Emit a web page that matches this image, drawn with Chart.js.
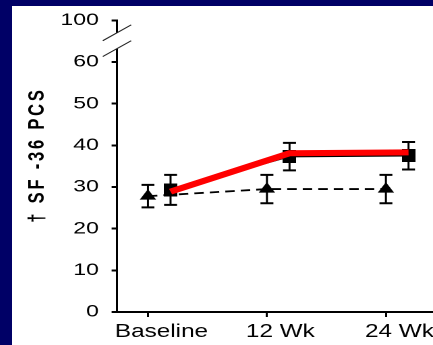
<!DOCTYPE html>
<html>
<head>
<meta charset="utf-8">
<script src="https://cdn.jsdelivr.net/npm/chart.js@4"></script>
<style>
  html, body { margin: 0; padding: 0; width: 433px; height: 345px; overflow: hidden; background: #000066; }
  #panel { position: absolute; left: 12px; top: 6px; width: 421px; height: 339px; background: #fff; overflow: hidden; }
  /* the old slide graphic is stretched sideways, so the canvas is too */
  #myChart { transform: scaleX(1.3494); transform-origin: 0 0; }
</style>
</head>
<body>
<div id="panel"><canvas id="myChart" width="312" height="339"></canvas></div>
<script>
const categories = ['Baseline', '12 Wk', '24 Wk'];
const yTickValues = [0, 10, 20, 30, 40, 50, 60, 70];
const yTickLabels = ['0', '10', '20', '30', '40', '50', '60', '100'];

const controlPCS = [27.8, 29.5, 29.5];
const controlErr = [2.7, 3.4, 3.4];
const treatedPCS = [29.3, 37.3, 37.5];
const treatedErr = [3.6, 3.3, 3.3];
const highlightPCS = [28.9, 38.1, 38.3];

const yAxisTitle = '\u2020 SF -36 PCS';

// treated group sits a little right of each time point
const treatedShift = 0.19;
// y axis is broken between these values, the 70 slot is labelled 100
const breakLow = 63.2;
const breakHigh = 67;

const fontFamily = '"Liberation Sans", Arial, sans-serif';

const squareMark = document.createElement('canvas');
squareMark.width = 10;
squareMark.height = 13;
squareMark.getContext('2d').fillRect(0, 0, 10, 13);

const errorBars = {
  id: 'errorBars',
  beforeDatasetsDraw(chart) {
    const { ctx, scales: { x, y } } = chart;
    const groups = [[controlPCS, controlErr, 0], [treatedPCS, treatedErr, treatedShift]];
    ctx.save();
    ctx.strokeStyle = '#000';
    groups.forEach(([vals, errs, shift]) => {
      vals.forEach((v, i) => {
        const px = x.getPixelForValue(i + shift);
        const top = y.getPixelForValue(v + errs[i]);
        const bot = y.getPixelForValue(v - errs[i]);
        ctx.lineWidth = 1.5;
        ctx.beginPath();
        ctx.moveTo(px, top);
        ctx.lineTo(px, bot);
        ctx.stroke();
        ctx.lineWidth = 2;
        ctx.beginPath();
        ctx.moveTo(px - 4.8, top); ctx.lineTo(px + 4.8, top);
        ctx.moveTo(px - 4.8, bot); ctx.lineTo(px + 4.8, bot);
        ctx.stroke();
      });
    });
    ctx.restore();
  }
};

const axisBreak = {
  id: 'axisBreak',
  afterDraw(chart) {
    const { ctx, chartArea, scales: { y } } = chart;
    const ax = chartArea.left;
    const yHigh = y.getPixelForValue(breakHigh);
    const yLow = y.getPixelForValue(breakLow);
    ctx.save();
    ctx.fillStyle = '#fff';
    ctx.fillRect(ax - 3, yHigh, 6, yLow - yHigh);
    ctx.strokeStyle = '#222';
    ctx.lineWidth = 1;
    ctx.beginPath();
    [yHigh, yLow].forEach(py => {
      ctx.moveTo(ax - 10.5, py + 7.9);
      ctx.lineTo(ax + 10.5, py - 7.9);
    });
    ctx.stroke();

    // rotated y title
    ctx.translate(18.9, 149);
    ctx.rotate(-Math.PI / 2);
    ctx.font = 'bold 16.5px ' + fontFamily;
    ctx.letterSpacing = '2.8px';
    ctx.fillStyle = '#000';
    ctx.textAlign = 'center';
    ctx.textBaseline = 'middle';
    ctx.fillText(yAxisTitle, 0, 0);
    ctx.restore();
  }
};

function initChart() {
  const ctx = document.getElementById('myChart');
  return new Chart(ctx, {
    type: 'line',
    data: {
      datasets: [{
        data: highlightPCS.map((v, i) => ({ x: i + treatedShift, y: v })),
        borderColor: '#ff0000',
        borderWidth: 6,
        borderCapStyle: 'butt',
        pointRadius: 0
      }, {
        data: treatedPCS.map((v, i) => ({ x: i + treatedShift, y: v })),
        borderColor: '#000',
        borderWidth: 1.5,
        pointStyle: squareMark,
        pointRadius: 6
      }, {
        data: controlPCS.map((v, i) => ({ x: i, y: v })),
        borderColor: '#000',
        borderWidth: 1.8,
        borderDash: [7, 4.5],
        pointStyle: 'triangle',
        pointRadius: 7,
        pointBorderWidth: 0,
        pointBackgroundColor: '#000'
      }]
    },
    options: {
      responsive: false,
      devicePixelRatio: 2,
      animation: false,
      layout: { autoPadding: false, padding: { top: 14.3, right: 0, bottom: 0, left: 0 } },
      plugins: { legend: { display: false }, tooltip: { enabled: false } },
      scales: {
        x: {
          type: 'linear',
          min: -0.26,
          max: 2.396,
          afterBuildTicks: s => { s.ticks = categories.map((c, i) => ({ value: i })); },
          afterFit: s => { s.height = 33; s.paddingLeft = 0; s.paddingRight = 0; },
          grid: { drawOnChartArea: false, tickLength: 5, color: '#000', lineWidth: 1.5 },
          border: { color: '#000', width: 2 },
          ticks: {
            callback: (v, i) => categories[i],
            color: '#000',
            font: { family: fontFamily, size: 18 },
            padding: 4,
            labelOffset: 10,
            maxRotation: 0,
            autoSkip: false
          }
        },
        y: {
          min: 0,
          max: 70,
          afterBuildTicks: s => { s.ticks = yTickValues.map(v => ({ value: v })); },
          afterFit: s => { s.width = 77.8; s.paddingTop = 0; s.paddingBottom = 0; },
          grid: { drawOnChartArea: false, tickLength: 4, color: '#000', lineWidth: 2 },
          border: { color: '#000', width: 1.5 },
          ticks: {
            callback: (v, i) => yTickLabels[i],
            color: '#000',
            font: { family: fontFamily, size: 17 },
            padding: 9.5
          }
        }
      }
    },
    plugins: [errorBars, axisBreak]
  });
}

document.addEventListener('DOMContentLoaded', () => initChart());
</script>
</body>
</html>
